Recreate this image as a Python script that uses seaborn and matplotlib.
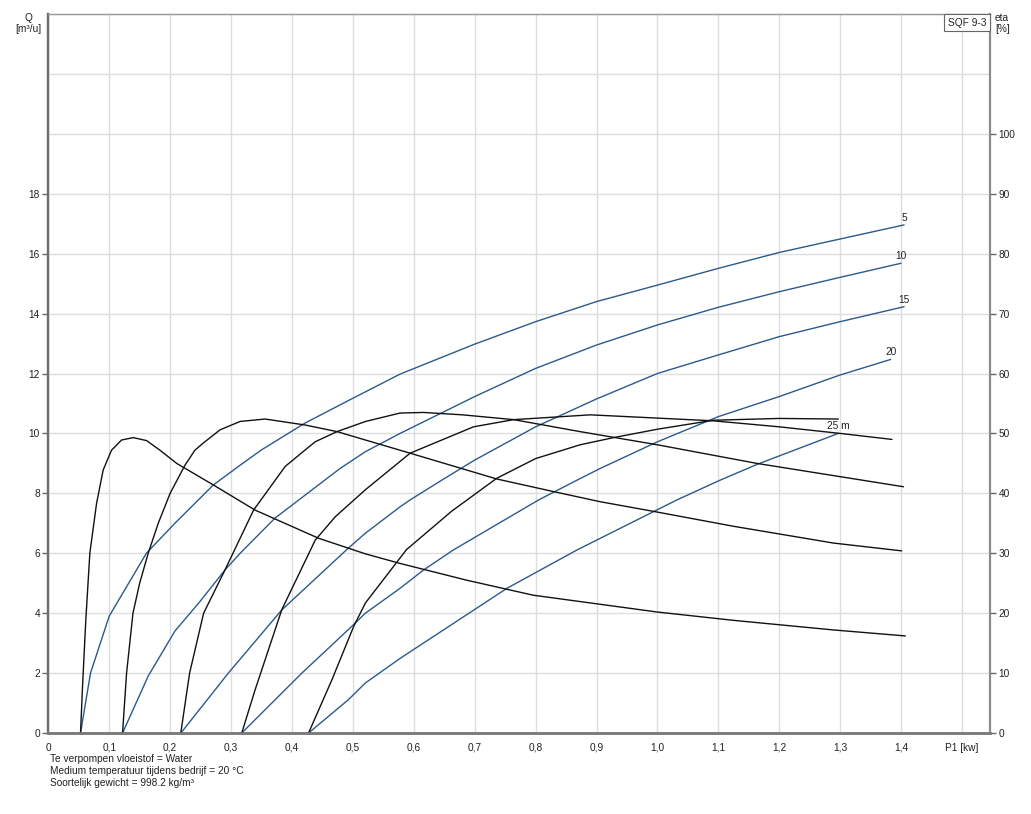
import numpy as np
import pandas as pd
import matplotlib
matplotlib.use("Agg")
import matplotlib.pyplot as plt
from matplotlib.ticker import FixedLocator
import seaborn as sns

# ---------------- data ----------------
heads = ["5", "10", "15", "20", "25 m"]

# Flow Q [m3/h] vs P1 [kW] (blue curves)
q5_x = [0.0529, 0.0693, 0.1, 0.161, 0.2078, 0.271, 0.315, 0.35, 0.421, 0.493, 0.5775, 0.7, 0.8, 0.9, 1.0, 1.1, 1.2, 1.3, 1.405]
q5_y = [0, 2.0, 3.9, 6.0, 7.0, 8.28, 8.94, 9.45, 10.34, 11.1, 11.98, 12.98, 13.73, 14.4, 14.95, 15.51, 16.04, 16.49, 16.96]

q10_x = [0.1219, 0.164, 0.2078, 0.249, 0.29, 0.315, 0.372, 0.479, 0.5206, 0.5775, 0.7, 0.8, 0.9, 1.0, 1.1, 1.2, 1.3, 1.4]
q10_y = [0, 1.9, 3.4, 4.39, 5.44, 6.0, 7.17, 8.83, 9.39, 10.0, 11.23, 12.17, 12.95, 13.62, 14.21, 14.73, 15.21, 15.68]

q15_x = [0.2177, 0.2956, 0.3834, 0.492, 0.5206, 0.5775, 0.594, 0.646, 0.7, 0.8, 0.9, 1.0, 1.1, 1.2, 1.3, 1.405]
q15_y = [0, 2.0, 4.11, 6.16, 6.67, 7.55, 7.78, 8.44, 9.11, 10.22, 11.15, 12.0, 12.62, 13.23, 13.73, 14.23]

q20_x = [0.3176, 0.4163, 0.492, 0.5206, 0.5775, 0.616, 0.665, 0.805, 0.868, 0.906, 1.0, 1.1, 1.2, 1.3, 1.383]
q20_y = [0, 2.0, 3.44, 4.0, 4.83, 5.44, 6.11, 7.78, 8.44, 8.83, 9.72, 10.56, 11.23, 11.95, 12.47]

q25_x = [0.4273, 0.492, 0.5206, 0.5775, 0.753, 0.868, 1.032, 1.103, 1.164, 1.297]
q25_y = [0, 1.1, 1.67, 2.49, 4.83, 6.11, 7.78, 8.44, 8.97, 10.0]

# Efficiency eta [%] vs P1 [kW] (black curves)
e5_x = [0.0529, 0.0562, 0.0616, 0.0682, 0.0792, 0.0901, 0.1038, 0.1203, 0.1395, 0.1614, 0.1833, 0.2107, 0.271, 0.3395, 0.4438, 0.5206, 0.5775, 0.687, 0.796, 0.999, 1.125, 1.289, 1.407]
e5_y = [0, 7.8, 18.9, 30.0, 38.3, 43.9, 47.2, 48.9, 49.3, 48.8, 47.2, 45.0, 41.4, 37.2, 32.5, 29.9, 28.3, 25.5, 23.0, 20.2, 18.8, 17.2, 16.2]

e10_x = [0.1219, 0.1285, 0.139, 0.150, 0.164, 0.1805, 0.2, 0.2244, 0.2407, 0.2545, 0.282, 0.315, 0.356, 0.4218, 0.474, 0.5206, 0.594, 0.736, 0.829, 0.906, 0.993, 1.125, 1.289, 1.401]
e10_y = [0, 10, 20, 25, 30, 35, 40, 44.7, 47.2, 48.4, 50.6, 52.0, 52.4, 51.4, 50.3, 48.9, 46.7, 42.4, 40.3, 38.6, 37.0, 34.5, 31.7, 30.4]

e15_x = [0.2175, 0.232, 0.255, 0.29, 0.337, 0.389, 0.438, 0.474, 0.521, 0.5775, 0.616, 0.68, 0.764, 0.873, 1.0, 1.163, 1.404]
e15_y = [0, 10, 20, 27.2, 37.2, 44.5, 48.6, 50.3, 52.0, 53.4, 53.5, 53.1, 52.3, 50.3, 48.1, 45.0, 41.1]

e20_x = [0.3176, 0.3395, 0.3834, 0.4383, 0.4712, 0.5206, 0.594, 0.698, 0.764, 0.89, 1.092, 1.2, 1.3, 1.385]
e20_y = [0, 7.2, 20.6, 32.2, 36.1, 40.6, 46.7, 51.1, 52.3, 53.1, 52.1, 51.1, 50.0, 49.0]

e25_x = [0.4273, 0.4657, 0.5014, 0.5206, 0.588, 0.662, 0.736, 0.8, 0.873, 0.928, 1.0, 1.092, 1.2, 1.297]
e25_y = [0, 8.9, 17.8, 21.7, 30.6, 37.0, 42.5, 45.8, 48.1, 49.3, 50.7, 52.2, 52.5, 52.4]

x_ticks = [0, 0.1, 0.2, 0.3, 0.4, 0.5, 0.6, 0.7, 0.8, 0.9, 1.0, 1.1, 1.2, 1.3, 1.4, 1.5]
x_labels = ["0", "0,1", "0,2", "0,3", "0,4", "0,5", "0,6", "0,7", "0,8", "0,9",
            "1,0", "1,1", "1,2", "1,3", "1,4", "P1 [kw]"]
q_ticks = [0, 2, 4, 6, 8, 10, 12, 14, 16, 18]
q_grid_extra = [20, 22]
eta_ticks = [0, 10, 20, 30, 40, 50, 60, 70, 80, 90, 100]

footer = ["Te verpompen vloeistof = Water",
          "Medium temperatuur tijdens bedrijf = 20 °C",
          "Soortelijk gewicht = 998.2 kg/m³"]

# ---------------- styling ----------------
sns.set_style("white")
plt.rcParams["font.family"] = ["Liberation Sans", "DejaVu Sans"]
plt.rcParams["font.size"] = 7.3

BLUE = "#2b5a8c"
BLACK = "#111111"
TXT = "#222222"
FS = 7.3

W, H = 1031, 814
fig = plt.figure(figsize=(W / 100, H / 100), dpi=100)
L, R, T, B = 48.3, 990, 14, 733
ax = fig.add_axes([L / W, 1 - B / H, (R - L) / W, (B - T) / H])
ax2 = ax.twinx()

# grid / ticks
ax.set_xticks(x_ticks)
ax.set_xticklabels(x_labels)
ax.set_yticks(q_ticks)
ax.set_yticklabels([str(v) for v in q_ticks])
ax.yaxis.set_minor_locator(FixedLocator(q_grid_extra))
ax.grid(True, which="both", color="#dedede", linewidth=1.0)
ax.set_axisbelow(True)
ax2.set_yticks(eta_ticks)
ax2.set_yticklabels([str(v) for v in eta_ticks])
ax2.grid(False)

for a in (ax, ax2):
    a.tick_params(axis="both", which="major", labelsize=FS, colors="#666666", labelcolor=TXT,
                  length=4, width=1.0, direction="out", pad=2)
ax.tick_params(axis="y", which="minor", length=0)
ax.tick_params(axis="x", pad=3)

# spines
for a in (ax, ax2):
    a.spines["left"].set_color("#6e6e6e")
    a.spines["left"].set_linewidth(1.6)
    a.spines["bottom"].set_color("#7a7a7a")
    a.spines["bottom"].set_linewidth(1.8)
    a.spines["top"].set_color("#9a9a9a")
    a.spines["top"].set_linewidth(0.9)
    a.spines["right"].set_color("#8a8a8a")
    a.spines["right"].set_linewidth(1.5)

q_series = [(q5_x, q5_y), (q10_x, q10_y), (q15_x, q15_y), (q20_x, q20_y), (q25_x, q25_y)]
e_series = [(e5_x, e5_y), (e10_x, e10_y), (e15_x, e15_y), (e20_x, e20_y), (e25_x, e25_y)]

for (xs, ys) in e_series:
    df = pd.DataFrame({"P1": xs, "eta": ys})
    sns.lineplot(data=df, x="P1", y="eta", ax=ax2, color=BLACK, linewidth=1.0,
                 estimator=None, sort=False)

for name, (xs, ys) in zip(heads, q_series):
    df = pd.DataFrame({"P1": xs, "Q": ys})
    sns.lineplot(data=df, x="P1", y="Q", ax=ax, color=BLUE, linewidth=1.0,
                 estimator=None, sort=False)
    ax.annotate(name, xy=(xs[-1], ys[-1]), xytext=(0, 1.5), textcoords="offset points",
                ha="center", va="bottom", fontsize=FS, color=TXT)

ax.set_xlabel("")
ax.set_ylabel("")
ax2.set_ylabel("")
ax2.set_xlabel("")
ax.set_xlim(0, 1.546)
ax.set_ylim(0, 24)
ax2.set_ylim(0, 120)

# axis titles
fig.text(28 / W, 1 - 18 / H, "Q", ha="center", va="center", fontsize=FS, color=TXT)
fig.text(28 / W, 1 - 29 / H, "[m³/u]", ha="center", va="center", fontsize=FS, color=TXT)
fig.text(995 / W, 1 - 18 / H, "eta", ha="left", va="center", fontsize=FS, color=TXT)
fig.text(995 / W, 1 - 29 / H, "[%]", ha="left", va="center", fontsize=FS, color=TXT)

# model box
ax2.text((967 - L) / (R - L), (B - 22.5) / (B - T), "SQF 9-3", transform=ax2.transAxes,
         ha="center", va="center", fontsize=FS, color=TXT,
         bbox=dict(boxstyle="square,pad=0.35", fc="white", ec="#666666", lw=0.8))

# footer
for i, line in enumerate(footer):
    fig.text(50 / W, 1 - (759 + 12 * i) / H, line, ha="left", va="center",
             fontsize=FS, color=TXT)

fig.savefig("out.png", dpi=100, facecolor="white")
